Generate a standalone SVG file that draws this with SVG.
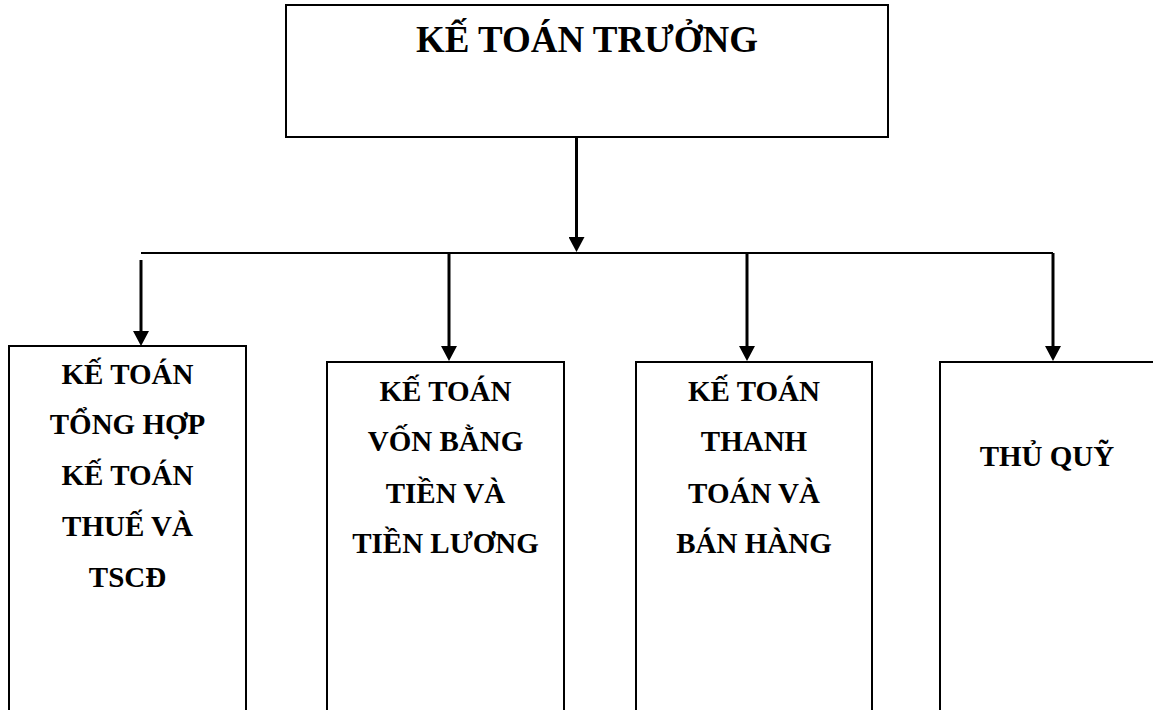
<svg xmlns="http://www.w3.org/2000/svg" width="1153" height="710" viewBox="0 0 1153 710">
  <style>
    .box { fill: #ffffff; stroke: #000000; stroke-width: 2; }
    .lbl { font-family: 'Liberation Serif', 'Times New Roman', serif; font-weight: 700; font-size: 29px; fill: #000000; text-anchor: middle; }
    .title { font-size: 37px; }
    .wire { stroke: #000000; stroke-width: 2; fill: none; }
    .arr { stroke: #000000; stroke-width: 3; fill: none; marker-end: url(#ah); }
  </style>
  <defs>
    <marker id="ah" markerUnits="userSpaceOnUse" markerWidth="16" markerHeight="16" refX="5" refY="8" orient="auto">
      <path d="M0,0 L15,8 L0,16 Z" fill="#000000"/>
    </marker>
  </defs>
  <rect width="1153" height="710" fill="#ffffff"/>

  <g id="connectors">
    <line class="arr" x1="576.5" y1="138" x2="576.5" y2="242"/>
    <line class="wire" x1="141" y1="253" x2="1053" y2="253"/>
    <line class="arr" x1="141" y1="260" x2="141" y2="336"/>
    <line class="arr" x1="449" y1="253" x2="449" y2="351"/>
    <line class="arr" x1="747" y1="253" x2="747" y2="351"/>
    <line class="arr" x1="1053" y1="253" x2="1053" y2="351"/>
  </g>

  <g id="node-ke-toan-truong">
    <rect class="box" x="286" y="5" width="602" height="132"/>
    <text class="lbl title" x="587" y="52">KẾ TOÁN TRƯỞNG</text>
  </g>

  <g id="node-tong-hop">
    <rect class="box" x="9" y="346" width="237" height="380"/>
    <text class="lbl" x="127.5" y="384">KẾ TOÁN</text>
    <text class="lbl" x="127.5" y="434">TỔNG HỢP</text>
    <text class="lbl" x="127.5" y="485">KẾ TOÁN</text>
    <text class="lbl" x="127.5" y="536">THUẾ VÀ</text>
    <text class="lbl" x="127.5" y="587">TSCĐ</text>
  </g>

  <g id="node-von-bang-tien">
    <rect class="box" x="327" y="362" width="237" height="370"/>
    <text class="lbl" x="445.5" y="401">KẾ TOÁN</text>
    <text class="lbl" x="445.5" y="451">VỐN BẰNG</text>
    <text class="lbl" x="445.5" y="503">TIỀN VÀ</text>
    <text class="lbl" x="445.5" y="553">TIỀN LƯƠNG</text>
  </g>

  <g id="node-thanh-toan">
    <rect class="box" x="636" y="362" width="236" height="370"/>
    <text class="lbl" x="754" y="401">KẾ TOÁN</text>
    <text class="lbl" x="754" y="451">THANH</text>
    <text class="lbl" x="754" y="503">TOÁN VÀ</text>
    <text class="lbl" x="754" y="553">BÁN HÀNG</text>
  </g>

  <g id="node-thu-quy">
    <rect class="box" x="940" y="362" width="240" height="370"/>
    <text class="lbl" x="1047" y="466">THỦ QUỸ</text>
  </g>
</svg>
